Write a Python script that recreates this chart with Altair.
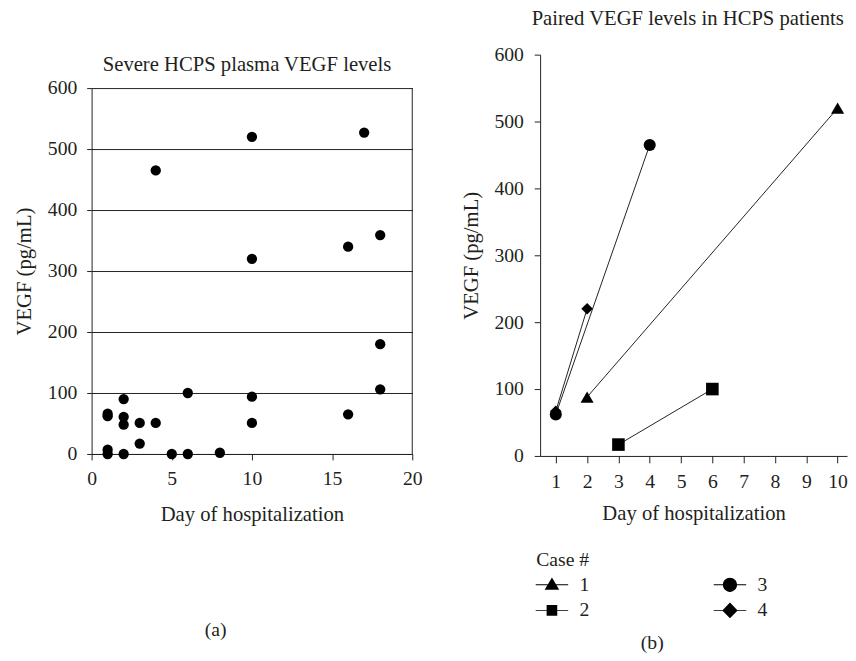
import altair as alt
import pandas as pd

FONT = "Liberation Serif"
INK = "#231f20"
FS = 20      # tick labels, legend
TFS = 21     # titles

# ---------- data ----------
# Panel (a): severe HCPS plasma VEGF levels
a_day = [4, 10, 17, 16, 18, 10, 18, 18, 16, 10, 10, 6, 2, 1, 1, 2, 2, 3, 4, 3, 1, 1, 2, 5, 6, 8]
a_vegf = [465, 520, 527, 340, 359, 320, 180, 106, 65, 94, 51, 100, 90, 66, 62, 61, 48, 51, 51, 17, 7, 0, 0, 0, 0, 2]

# Panel (b): paired VEGF levels per case
b_case = ["1", "1", "2", "2", "3", "3", "4", "4"]
b_day = [2, 10, 3, 6, 1, 4, 1, 2]
b_vegf = [88, 520, 17, 100, 62, 465, 67, 220]

y_ticks = [0, 100, 200, 300, 400, 500, 600]
xa_ticks = [0, 5, 10, 15, 20]
xb_ticks = [1, 2, 3, 4, 5, 6, 7, 8, 9, 10]
captions = ["(a)", "(b)"]

case_domain = ["1", "2", "3", "4"]
case_shapes = ["triangle-up", "square", "circle", "diamond"]
case_sizes = [177, 137, 107, 137]
# legend symbols: a thin horizontal bar (the line) plus the marker, all drawn clockwise
LEG_LINE = "M-1.65,-0.05L1.65,-0.05L1.65,0.05L-1.65,0.05Z"
legend_paths = [
    LEG_LINE + "M0,-0.75L0.74,0.5L-0.74,0.5Z",
    LEG_LINE + "M-0.54,-0.54L0.54,-0.54L0.54,0.54L-0.54,0.54Z",
    LEG_LINE + "M-0.72,0A0.72,0.72,0,1,1,0.72,0A0.72,0.72,0,1,1,-0.72,0Z",
    LEG_LINE + "M0,-0.8L0.78,0L0,0.8L-0.78,0Z",
]

df_a = pd.DataFrame({"day": a_day, "vegf": a_vegf})
df_b = pd.DataFrame({"case": b_case, "day": b_day, "vegf": b_vegf})


def axis(**kw):
    base = dict(
        labelFont=FONT, labelFontSize=FS, labelColor=INK,
        titleFont=FONT, titleFontSize=TFS, titleFontWeight="normal", titleColor=INK,
        domainColor=INK, tickColor=INK, domainWidth=1, tickWidth=1,
        labelFlush=False, labelOverlap=False,
    )
    base.update(kw)
    return alt.Axis(**base)


# ---------- panel (a) ----------
WA, HA = 326, 406
xa = alt.X("day:Q", scale=alt.Scale(domain=[0, 20], nice=False),
           axis=axis(values=xa_ticks, title="Day of hospitalization", grid=False,
                     tickSize=6, labelPadding=9, titlePadding=16))
ya = alt.Y("vegf:Q", scale=alt.Scale(domain=[0, 600], nice=False, range=[HA, 34]),
           axis=axis(values=y_ticks, title="VEGF (pg/mL)", grid=True, gridColor=INK,
                     gridOpacity=1, gridWidth=1, tickSize=5, labelPadding=10, titlePadding=13))

pts_a = alt.Chart(df_a).mark_circle(size=110, color="black", opacity=1).encode(x=xa, y=ya)
frame_a = alt.Chart(pd.DataFrame({"x": [20]})).mark_rule(color=INK, strokeWidth=1).encode(
    x=alt.X("x:Q"), y=alt.datum(0), y2=alt.datum(600))
cap_a = alt.Chart(pd.DataFrame({"cap": [captions[0]]})).mark_text(
    font=FONT, fontSize=FS, color=INK).encode(
    x=alt.value(126), y=alt.value(585), text="cap:N")

panel_a = alt.layer(pts_a, frame_a, cap_a).properties(
    width=WA, height=HA,
    title=alt.TitleParams("Severe HCPS plasma VEGF levels", font=FONT, fontSize=TFS,
                          fontWeight="normal", color=INK, offset=-21, dx=-5,
                          frame="group", anchor="middle"),
)

# ---------- panel (b) ----------
WB, HB = 312, 408
xb = alt.X("day:Q", scale=alt.Scale(domain=[0.5, 10.3], nice=False, zero=False),
           axis=axis(values=xb_ticks, title="Day of hospitalization", grid=False,
                     tickSize=7, labelPadding=9, titlePadding=12))
yb = alt.Y("vegf:Q", scale=alt.Scale(domain=[0, 600], nice=False),
           axis=axis(values=y_ticks, title="VEGF (pg/mL)", grid=False,
                     tickSize=6, labelPadding=11, titlePadding=13))

lines_b = alt.Chart(df_b).mark_line(color=INK, strokeWidth=1).encode(
    x=xb, y=yb, detail="case:N")
pts_b = alt.Chart(df_b).mark_point(filled=True, color="black", opacity=1).encode(
    x=xb, y=yb,
    shape=alt.Shape("case:N", scale=alt.Scale(domain=case_domain, range=case_shapes), legend=None),
    size=alt.Size("case:N", scale=alt.Scale(domain=case_domain, range=case_sizes), legend=None))
leg_b = alt.Chart(df_b).transform_filter("false").mark_point(
    filled=True, color="black", opacity=1).encode(
    x=xb, y=yb,
    shape=alt.Shape("case:N", scale=alt.Scale(domain=case_domain, range=legend_paths),
                    legend=alt.Legend(
                        title="Case #", orient="none",
                        legendX=-4, legendY=504,
                        columns=2, columnPadding=126, rowPadding=6,
                        symbolSize=400, symbolOffset=6, labelOffset=18,
                        symbolStrokeWidth=0, symbolFillColor="black",
                        titleFont=FONT, titleFontSize=FS, titleFontWeight="normal", titleColor=INK,
                        labelFont=FONT, labelFontSize=FS, labelColor=INK, titlePadding=5)))
cap_b = alt.Chart(pd.DataFrame({"cap": [captions[1]]})).mark_text(
    font=FONT, fontSize=FS, color=INK).encode(
    x=alt.value(114), y=alt.value(598), text="cap:N")

panel_b = alt.layer(lines_b, pts_b, leg_b, cap_b).resolve_scale(
    shape="independent", size="independent").properties(
    width=WB, height=HB,
    title=alt.TitleParams("Paired VEGF levels in HCPS patients", font=FONT, fontSize=TFS,
                          fontWeight="normal", color=INK, offset=16, dx=-6,
                          frame="group", anchor="middle"),
)

chart = alt.hconcat(panel_a, panel_b, spacing=39).properties(
    padding={"left": 6, "top": -5, "right": 0, "bottom": 0},
).configure_view(stroke=None)

chart.save("out.html", embed_options={"renderer": "svg", "actions": False})
